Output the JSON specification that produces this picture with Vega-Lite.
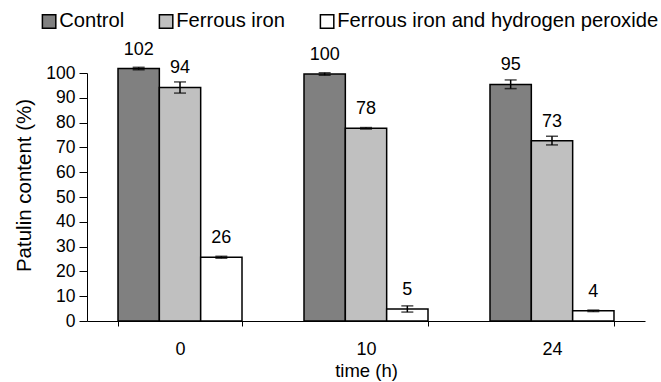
{
  "$schema": "https://vega.github.io/schema/vega-lite/v6.json",
  "width": 558,
  "height": 248,
  "autosize": {"type": "none"},
  "padding": {"left": 87, "top": 73, "right": 16, "bottom": 61},
  "background": "white",
  "config": {
    "view": {"stroke": null},
    "font": "Liberation Sans",
    "axis": {
      "grid": false,
      "domainColor": "black",
      "domainWidth": 1,
      "tickColor": "black",
      "tickWidth": 1,
      "labelColor": "black",
      "titleColor": "black",
      "titleFontWeight": "normal",
      "labelFont": "Liberation Sans",
      "titleFont": "Liberation Sans"
    },
    "axisY": {
      "tickSize": 8,
      "labelPadding": 4,
      "labelFontSize": 17.5,
      "titleFontSize": 20.5,
      "titlePadding": 11,
      "titleY": 112,
      "labelOverlap": false
    },
    "legend": {
      "labelFont": "Liberation Sans",
      "labelColor": "black"
    }
  },
  "data": {
    "values": [
      {"time": "0", "treatment": "Control", "value": 101.8, "lo": 101.3, "hi": 102.3},
      {"time": "0", "treatment": "Ferrous iron", "value": 94.2, "lo": 91.9, "hi": 96.4},
      {"time": "0", "treatment": "Ferrous iron and hydrogen peroxide", "value": 25.7, "lo": 25.3, "hi": 26.1},
      {"time": "10", "treatment": "Control", "value": 99.6, "lo": 99.1, "hi": 100.1},
      {"time": "10", "treatment": "Ferrous iron", "value": 77.7, "lo": 77.4, "hi": 78.0},
      {"time": "10", "treatment": "Ferrous iron and hydrogen peroxide", "value": 4.8, "lo": 3.6, "hi": 6.1},
      {"time": "24", "treatment": "Control", "value": 95.4, "lo": 93.7, "hi": 97.2},
      {"time": "24", "treatment": "Ferrous iron", "value": 72.7, "lo": 71.0, "hi": 74.5},
      {"time": "24", "treatment": "Ferrous iron and hydrogen peroxide", "value": 4.1, "lo": 3.8, "hi": 4.4}
    ]
  },
  "encoding": {
    "x": {
      "field": "time",
      "type": "nominal",
      "sort": ["0", "10", "24"],
      "scale": {"paddingInner": 0.3333, "paddingOuter": 0.1667},
      "axis": {
        "title": "time (h)",
        "labelAngle": 0,
        "tickBand": "extent",
        "tickSize": 5,
        "labelPadding": 14,
        "labelFontSize": 18,
        "titleFontSize": 18.5,
        "titlePadding": 3
      }
    },
    "xOffset": {
      "field": "treatment",
      "type": "nominal",
      "sort": ["Control", "Ferrous iron", "Ferrous iron and hydrogen peroxide"],
      "scale": {"paddingInner": 0, "paddingOuter": 0}
    }
  },
  "layer": [
    {
      "mark": {"type": "bar", "stroke": "black", "strokeWidth": 1.5},
      "encoding": {
        "y": {
          "field": "value",
          "type": "quantitative",
          "scale": {"domain": [0, 100], "nice": false},
          "axis": {
            "title": "Patulin content (%)",
            "values": [0, 10, 20, 30, 40, 50, 60, 70, 80, 90, 100]
          }
        },
        "color": {
          "field": "treatment",
          "type": "nominal",
          "sort": ["Control", "Ferrous iron", "Ferrous iron and hydrogen peroxide"],
          "scale": {
            "domain": ["Control", "Ferrous iron", "Ferrous iron and hydrogen peroxide"],
            "range": ["#808080", "#c0c0c0", "#ffffff"]
          },
          "legend": {
            "title": null,
            "orient": "none",
            "direction": "horizontal",
            "legendX": -48,
            "legendY": -62,
            "symbolType": "square",
            "symbolSize": 180,
            "symbolStrokeColor": "black",
            "symbolStrokeWidth": 1.5,
            "symbolOpacity": 1,
            "labelFontSize": 20.2,
            "labelOffset": 0,
            "labelLimit": 500,
            "columnPadding": 31
          }
        }
      }
    },
    {
      "mark": {"type": "rule", "color": "black", "strokeWidth": 1.5},
      "encoding": {
        "y": {"field": "lo", "type": "quantitative", "axis": {"title": "Patulin content (%)", "values": [0, 10, 20, 30, 40, 50, 60, 70, 80, 90, 100]}},
        "y2": {"field": "hi"}
      }
    },
    {
      "mark": {"type": "tick", "color": "black", "size": 12, "thickness": 1.5},
      "encoding": {
        "y": {"field": "lo", "type": "quantitative", "axis": {"title": "Patulin content (%)", "values": [0, 10, 20, 30, 40, 50, 60, 70, 80, 90, 100]}}
      }
    },
    {
      "mark": {"type": "tick", "color": "black", "size": 12, "thickness": 1.5},
      "encoding": {
        "y": {"field": "hi", "type": "quantitative", "axis": {"title": "Patulin content (%)", "values": [0, 10, 20, 30, 40, 50, 60, 70, 80, 90, 100]}}
      }
    },
    {
      "mark": {"type": "text", "dy": -14, "baseline": "alphabetic", "fontSize": 18, "color": "black"},
      "encoding": {
        "y": {"field": "value", "type": "quantitative", "axis": {"title": "Patulin content (%)", "values": [0, 10, 20, 30, 40, 50, 60, 70, 80, 90, 100]}},
        "text": {"field": "value", "type": "quantitative", "format": ".0f"}
      }
    }
  ]
}
